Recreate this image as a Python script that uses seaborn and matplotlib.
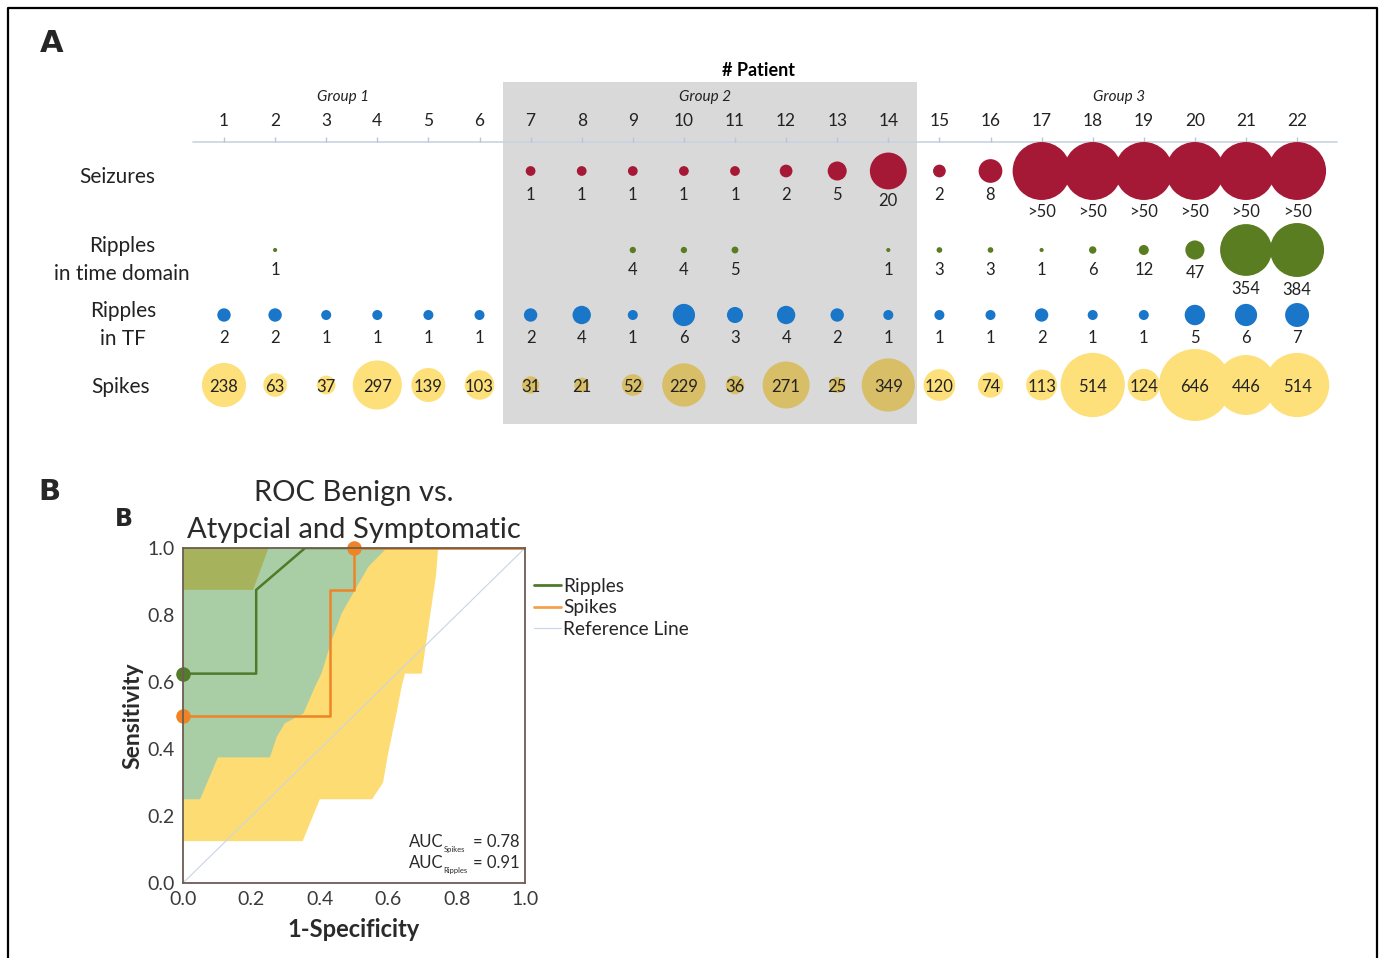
#!/usr/bin/env python3

import numpy as np
import pandas as pd
import seaborn as sns
import matplotlib.pyplot as plt
from matplotlib.patches import Rectangle
from matplotlib.lines import Line2D

# ---- data: panel A (per patient) ----
patients = list(range(1, 23))
seizures = [np.nan] * 6 + [1, 1, 1, 1, 1, 2, 5, 20, 2, 8, 50, 50, 50, 50, 50, 50]
seizure_labels = [''] * 6 + ['1', '1', '1', '1', '1', '2', '5', '20', '2', '8'] + ['>50'] * 6
ripples_td = [np.nan, 1, np.nan, np.nan, np.nan, np.nan, np.nan, np.nan, 4, 4, 5,
              np.nan, np.nan, 1, 3, 3, 1, 6, 12, 47, 354, 384]
ripples_tf = [2, 2, 1, 1, 1, 1, 2, 4, 1, 6, 3, 4, 2, 1, 1, 1, 2, 1, 1, 5, 6, 7]
spikes = [238, 63, 37, 297, 139, 103, 31, 21, 52, 229, 36, 271, 25, 349,
          120, 74, 113, 514, 124, 646, 446, 514]
group_names = ['Group 1', 'Group 2', 'Group 3']

# ---- data: panel B (ROC) ----
ripples_fpr = [0.0, 0.214, 0.214, 0.357, 1.0]
ripples_tpr = [0.625, 0.625, 0.875, 1.0, 1.0]
spikes_fpr = [0.0, 0.429, 0.429, 0.5, 0.5, 1.0]
spikes_tpr = [0.5, 0.5, 0.875, 0.875, 1.0, 1.0]
ripples_dot_fpr = [0.0]
ripples_dot_tpr = [0.625]
spikes_dot_fpr = [0.0, 0.5]
spikes_dot_tpr = [0.5, 1.0]
ref_fpr = [0.0, 1.0]
ref_tpr = [0.0, 1.0]
# confidence bands
spikes_ci_x = [0, 0.35, 0.40, 0.553, 0.585, 0.60, 0.626, 0.64, 0.649, 0.698, 0.712, 0.74, 0.746, 0]
spikes_ci_y = [0.125, 0.125, 0.25, 0.25, 0.30, 0.388, 0.516, 0.59, 0.625, 0.625, 0.725, 0.92, 1.0, 1.0]
ripples_ci_x = [0, 0.05, 0.102, 0.254, 0.274, 0.298, 0.352, 0.386, 0.405, 0.435, 0.464, 0.503, 0.542, 0.596, 0]
ripples_ci_y = [0.25, 0.25, 0.375, 0.375, 0.436, 0.477, 0.506, 0.586, 0.626, 0.725, 0.805, 0.875, 0.944, 1.0, 1.0]
overlap_x = [0, 0.205, 0.25, 0]
overlap_y = [0.875, 0.875, 1.0, 1.0]
auc_names = ['Spikes', 'Ripples']
auc_values = [0.78, 0.91]

sns.set_style('white')
plt.rcParams['font.family'] = ['Lato', 'DejaVu Sans']

W, H = 1383, 958
fig = plt.figure(figsize=(W / 100, H / 100), dpi=100)

# layout helpers (pixel -> patient units)
def px2p(px):
    return 1 + (px - 224) / 51.1

dy = 2  # text baseline nudge
row_y = {'Seizures': 171, 'RTD': 250, 'RTF': 315, 'Spikes': 385}
txt = '#222222'

# ================= panel A =================
axA = fig.add_axes([0, 1 - 450 / H, 1, 450 / H])
axA.set_xlim(px2p(0), px2p(W))
axA.set_ylim(450, 0)
axA.axis('off')

# row settings: (values, color, sizes, norm)
rows = [
    ('Seizures', seizures, '#a51937', (15, 1741), (0, 50)),
    ('RTD', ripples_td, '#5b7d22', (5, 1509), (0, 384)),
    ('RTF', ripples_tf, '#1976c9', (11, 298), (0, 7)),
    ('Spikes', spikes, '#fde07a', (29, 2683), (0, 646)),
]

def radius_px(v, sizes, norm):
    s = sizes[0] + (v - norm[0]) / (norm[1] - norm[0]) * (sizes[1] - sizes[0])
    return np.sqrt(s) * 0.5 * 100 / 72

for key, vals, col, sizes, norm in rows:
    df = pd.DataFrame({'patient': patients, 'value': vals})
    df['y'] = row_y[key]
    df = df.dropna()
    z = 1 if key == 'Spikes' else 3
    sns.scatterplot(data=df, x='patient', y='y', size='value', sizes=sizes,
                    size_norm=norm, color=col, linewidth=0, legend=False,
                    ax=axA, zorder=z)

# labels under / inside bubbles
for p, v, lab in zip(patients, seizures, seizure_labels):
    if lab:
        r = radius_px(v, (15, 1741), (0, 50))
        axA.text(p, row_y['Seizures'] + max(r + 10, 22) + dy, lab, ha='center', va='center',
                 fontsize=12, color=txt, zorder=5)
for p, v in zip(patients, ripples_td):
    if not np.isnan(v):
        r = radius_px(v, (5, 1509), (0, 384))
        axA.text(p, row_y['RTD'] + max(r + 11, 18) + dy, str(int(v)), ha='center', va='center',
                 fontsize=12, color=txt, zorder=5)
for p, v in zip(patients, ripples_tf):
    axA.text(p, row_y['RTF'] + 21 + dy, str(v), ha='center', va='center',
             fontsize=12, color=txt, zorder=5)
for p, v in zip(patients, spikes):
    axA.text(p, row_y['Spikes'] + dy, str(v), ha='center', va='center',
             fontsize=12, color=txt, zorder=5)

# group 2 shading (darkens what lies under it)
axA.add_patch(Rectangle((px2p(503), 82), px2p(917) - px2p(503), 342,
                        facecolor='black', alpha=0.15, linewidth=0, zorder=2))

# header
axA.plot([px2p(193), px2p(1337)], [142, 142], color='#c9d3de', lw=1.2, zorder=2.5)
axA.vlines(patients, 137, 142, color='#b9c6d4', lw=1, zorder=2.5)
for p in patients:
    axA.text(p, 119 + dy, str(p), ha='center', va='center', fontsize=12.5, color=txt, zorder=5)
for name, px in zip(group_names, [343, 705, 1119]):
    axA.text(px2p(px), 95 + dy, name, ha='center', va='center', fontsize=11,
             style='italic', color=txt, zorder=5)
axA.text(px2p(758), 69 + dy, '# Patient', ha='center', va='center', fontsize=13,
         fontweight='bold', color='black', zorder=5)

# row names
axA.text(px2p(117), 175 + dy, 'Seizures', ha='center', va='center', fontsize=15, color=txt)
axA.text(px2p(122), 258 + dy, 'Ripples\nin time domain', ha='center', va='center',
         fontsize=15, color=txt, linespacing=1.55)
axA.text(px2p(123), 323 + dy, 'Ripples\nin TF', ha='center', va='center',
         fontsize=15, color=txt, linespacing=1.55)
axA.text(px2p(121), 385 + dy, 'Spikes', ha='center', va='center', fontsize=15, color=txt)

# ================= panel B =================
axB = fig.add_axes([183 / W, 1 - 883 / H, 342 / W, 335 / H])
axB.fill(spikes_ci_x, spikes_ci_y, color='#fddc73', lw=0, zorder=1)
axB.fill(ripples_ci_x, ripples_ci_y, color='#a9cea5', lw=0, zorder=2)
axB.fill(overlap_x, overlap_y, color='#a7b35c', lw=0, zorder=3)

sns.lineplot(x=ref_fpr, y=ref_tpr, color='#c8d5e4', lw=0.8, sort=False,
             estimator=None, ax=axB, zorder=4)
sns.lineplot(x=ripples_fpr, y=ripples_tpr, color='#4f7a28', lw=1.8, sort=False,
             estimator=None, ax=axB, zorder=5)
sns.lineplot(x=spikes_fpr, y=spikes_tpr, color='#ef8427', lw=1.8, sort=False,
             estimator=None, ax=axB, zorder=5)
sns.scatterplot(x=ripples_dot_fpr, y=ripples_dot_tpr, color='#557a2b', s=110,
                linewidth=0, ax=axB, zorder=6, clip_on=False)
sns.scatterplot(x=spikes_dot_fpr, y=spikes_dot_tpr, color='#ef8427', s=110,
                linewidth=0, ax=axB, zorder=6, clip_on=False)

axB.set_xlim(0, 1)
axB.set_ylim(0, 1)
ticks = [0, 0.2, 0.4, 0.6, 0.8, 1.0]
axB.set_xticks(ticks)
axB.set_yticks(ticks)
axB.set_xticklabels(['%.1f' % t for t in ticks])
axB.set_yticklabels(['%.1f' % t for t in ticks])
spc = '#6e5c52'
for s in axB.spines.values():
    s.set_color(spc)
    s.set_linewidth(1.3)
    s.set_zorder(7)
axB.tick_params(direction='out', length=5, width=1.2, color=spc, labelsize=14,
                labelcolor='#3a3a3a', pad=1)
axB.set_xlabel('1-Specificity', fontsize=17, fontweight='bold', color='#2a2a2a', labelpad=7)
axB.set_ylabel('Sensitivity', fontsize=16.5, fontweight='bold', color='#2a2a2a', labelpad=3)
axB.set_title('ROC Benign vs.\nAtypcial and Symptomatic', fontsize=21, color='#2a2a2a',
              pad=7, linespacing=1.55)

# AUC annotations: main text, tiny subscript, value
for i, (name, val) in enumerate(zip(auc_names, auc_values)):
    yy = 0.122 - i * 0.062
    axB.text(0.762, yy, 'AUC', transform=axB.transAxes, ha='right', va='center',
             fontsize=12, color='#2a2a2a', zorder=8)
    axB.text(0.762, yy - 0.022, name, transform=axB.transAxes, ha='left', va='center',
             fontsize=5.5, color='#2a2a2a', zorder=8)
    axB.text(0.985, yy, '= %.2f' % val, transform=axB.transAxes, ha='right', va='center',
             fontsize=12, color='#2a2a2a', zorder=8)

handles = [Line2D([], [], color='#4f7a28', lw=2),
           Line2D([], [], color='#f5a04f', lw=2),
           Line2D([], [], color='#c8d5e4', lw=0.8)]
axB.legend(handles, ['Ripples', 'Spikes', 'Reference Line'], loc='upper left',
           bbox_to_anchor=(1.025, 0.91), frameon=False, fontsize=13.8,
           handlelength=1.45, handletextpad=0.1, labelspacing=0.22, borderpad=0,
           borderaxespad=0)

# panel letters and frame
fig.text(52 / W, 1 - 44 / H, 'A', fontsize=22, fontweight='bold', family='DejaVu Sans',
         ha='center', va='center')
fig.text(49 / W, 1 - 492 / H, 'B', fontsize=21, fontweight='bold', family='DejaVu Sans',
         ha='center', va='center')
fig.text(124 / W, 1 - 519 / H, 'B', fontsize=17, fontweight='bold', family='DejaVu Sans',
         ha='center', va='center')
fig.add_artist(Line2D([8 / W, 8 / W, 1377 / W, 1377 / W], [0, 1 - 8 / H, 1 - 8 / H, 0],
                      transform=fig.transFigure, color='black', lw=1.6))

fig.savefig('out.png', dpi=100)
